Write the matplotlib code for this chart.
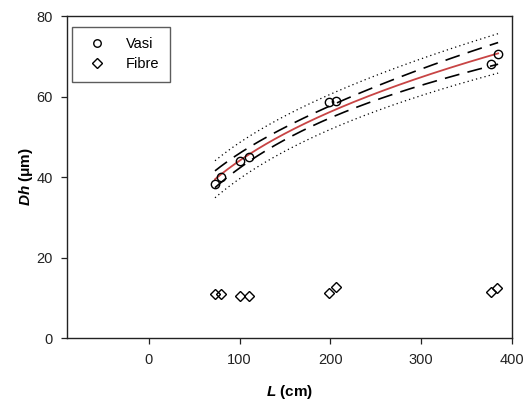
import numpy as np
import matplotlib
matplotlib.use("Agg")
import matplotlib.pyplot as plt

plt.rcParams['font.family'] = ['Liberation Sans', 'DejaVu Sans']
plt.rcParams['mathtext.fontset'] = 'custom'
plt.rcParams['mathtext.it'] = 'Liberation Sans:bold:italic'
plt.rcParams['mathtext.rm'] = 'Liberation Sans:bold'

# Data
vasi_L = [73, 79.5, 101, 110, 199, 206.5, 377, 384.7]
vasi_Dh = [38.2, 40.0, 44.0, 45.1, 58.6, 58.9, 68.2, 70.6]
fibre_L = [73.5, 80, 100, 110, 199, 206.5, 377, 383.6]
fibre_Dh = [10.9, 10.9, 10.5, 10.5, 11.1, 12.6, 11.5, 12.5]
xticks = [0, 100, 200, 300, 400]
yticks = [0, 20, 40, 60, 80]

# Power-law fit y = a * L^b (Gauss-Newton) with confidence / prediction bands
x = np.array(vasi_L, float)
y = np.array(vasi_Dh, float)
bl, la = np.polyfit(np.log(x), np.log(y), 1)
p = np.array([np.exp(la), bl])
for _ in range(50):
    f = p[0] * x ** p[1]
    J = np.column_stack([x ** p[1], p[0] * x ** p[1] * np.log(x)])
    dp = np.linalg.lstsq(J, y - f, rcond=None)[0]
    p = p + dp
f = p[0] * x ** p[1]
J = np.column_stack([x ** p[1], p[0] * x ** p[1] * np.log(x)])
dof = len(x) - 2
s2 = np.sum((y - f) ** 2) / dof
cov = s2 * np.linalg.inv(J.T @ J)
tval = 2.4469
xx = np.linspace(x.min(), x.max(), 200)
yy = p[0] * xx ** p[1]
Jg = np.column_stack([xx ** p[1], p[0] * xx ** p[1] * np.log(xx)])
var_m = np.einsum('ij,jk,ik->i', Jg, cov, Jg)
ci = tval * np.sqrt(var_m)
pi = tval * np.sqrt(var_m + s2)

fig = plt.figure(figsize=(5.23, 4.01), dpi=100)
ax = fig.add_axes([0.128, 0.157, 0.851, 0.803])

ax.plot(xx, yy + pi, color='black', lw=0.9, ls=(0, (1, 2.5)))
ax.plot(xx, yy - pi, color='black', lw=0.9, ls=(0, (1, 2.5)))
ax.plot(xx, yy + ci, color='black', lw=1.2, ls=(0, (9, 5)))
ax.plot(xx, yy - ci, color='black', lw=1.2, ls=(0, (9, 5)))
ax.plot(xx, yy, color='#c84444', lw=1.3)

ax.plot(vasi_L, vasi_Dh, 'o', ms=6, mfc='none', mec='black', mew=1.0, label='Vasi', zorder=5)
ax.plot(fibre_L, fibre_Dh, 'D', ms=5.5, mfc='none', mec='black', mew=1.0, label='Fibre', zorder=5)

ax.set_xlim(-90, 400)
ax.set_ylim(0, 80)
ax.set_xticks(xticks)
ax.set_yticks(yticks)
ax.tick_params(direction='out', length=4, width=0.9, labelsize=10.5, colors='#222222',
               top=False, right=False)
ax.tick_params(axis='x', pad=7)
ax.tick_params(axis='y', pad=6)
for sp in ax.spines.values():
    sp.set_linewidth(1.0)
    sp.set_color('#222222')

ax.set_xlabel(r'$L$ (cm)', fontsize=11, fontweight='bold', labelpad=11)
ax.set_ylabel(r'$Dh$ ($\mathrm{\mu}$m)', fontsize=11, fontweight='bold', labelpad=1)

leg = ax.legend(loc='upper left', bbox_to_anchor=(0.011, 0.966), fontsize=10.5, frameon=True,
                fancybox=False, edgecolor='#333333', borderpad=0.7, handletextpad=1.0,
                labelspacing=0.42, handlelength=2.0, borderaxespad=0, markerscale=0.9)
leg.get_frame().set_linewidth(1.0)

fig.savefig('out.png', dpi=100)
